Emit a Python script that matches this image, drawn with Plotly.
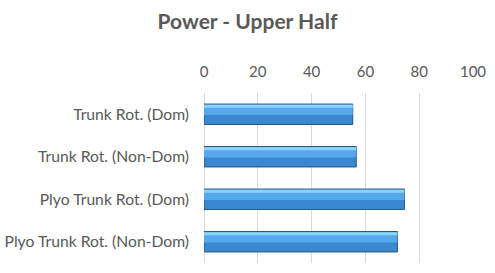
import plotly.graph_objects as go

categories = ["Trunk Rot. (Dom)", "Trunk Rot. (Non-Dom)", "Plyo Trunk Rot. (Dom)", "Plyo Trunk Rot. (Non-Dom)"]
values = [55.3, 56.6, 74.5, 71.9]
tick_vals = [0, 20, 40, 60, 80, 100]
title_text = "Power - Upper Half"

fig = go.Figure()
# base bar (darker body with dark border)
fig.add_trace(go.Bar(
    x=values, y=categories, orientation="h", width=0.48,
    marker=dict(color="#3a88d0", line=dict(color="#26557f", width=1)),
    hoverinfo="skip", showlegend=False))
# upper lighter tone
fig.add_trace(go.Bar(
    x=values, y=categories, orientation="h", width=0.24, offset=-0.225,
    marker=dict(color="#55a9eb", line=dict(width=0)),
    hoverinfo="skip", showlegend=False))
# top highlight
fig.add_trace(go.Bar(
    x=values, y=categories, orientation="h", width=0.07, offset=-0.225,
    marker=dict(color="#8ed2f8", line=dict(width=0)),
    hoverinfo="skip", showlegend=False))

fig.update_layout(
    width=495, height=273,
    margin=dict(l=204, r=22, t=93, b=10),
    paper_bgcolor="white", plot_bgcolor="white",
    barmode="overlay",
    font=dict(family="Lato, Open Sans, sans-serif", color="#595959", size=16),
    title=dict(text="<b>" + title_text + "</b>", x=0.5, xanchor="center",
               y=1 - 22 / 273, yanchor="middle", yref="container",
               font=dict(size=21, color="#595959")),
    xaxis=dict(side="top", range=[0, 100], tickvals=tick_vals, showgrid=True,
               gridcolor="#d9d9d9", gridwidth=1, zeroline=True, zerolinecolor="#d9d9d9",
               zerolinewidth=1, showline=False, ticks="", ticklabelstandoff=12,
               automargin=False, tickfont=dict(size=15, color="#595959")),
    yaxis=dict(autorange="reversed", showgrid=False, zeroline=False, showline=False,
               ticks="", ticklabelstandoff=14, automargin=False,
               tickfont=dict(size=15.7, color="#595959")),
)
fig.write_html("out.html")
